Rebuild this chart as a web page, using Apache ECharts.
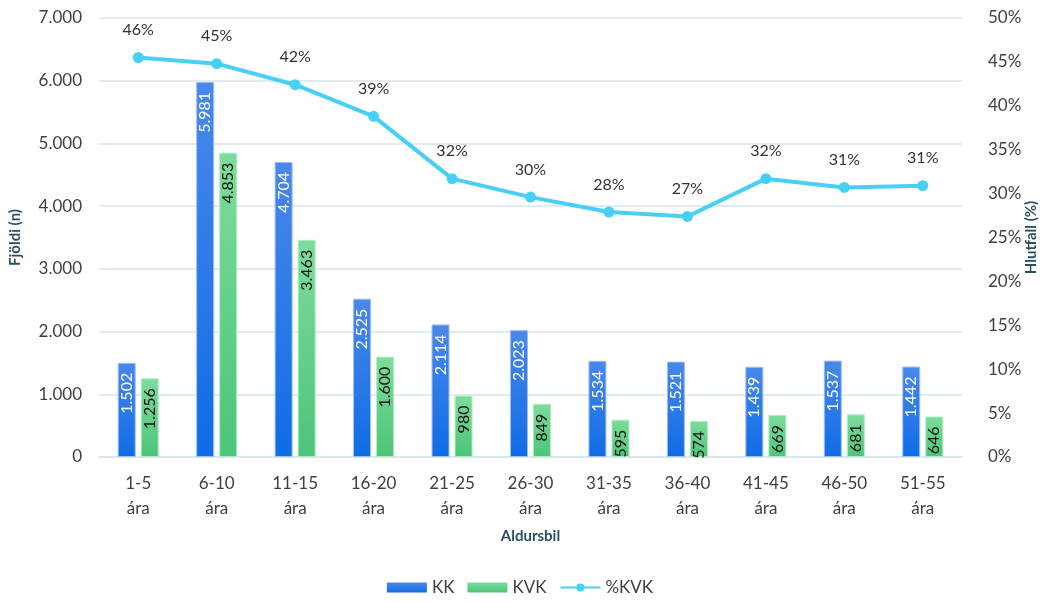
<!DOCTYPE html>
<html>
<head>
  <meta charset="utf-8">
  <title>Aldursbil</title>
  <script src="https://cdn.jsdelivr.net/npm/echarts@6/dist/echarts.min.js"></script>
  <style>
    html, body { margin: 0; padding: 0; background: #fff; }
    #chart { width: 1040px; height: 602px; }
  </style>
</head>
<body>
  <div id="chart"></div>
  <script>
    // data
    const categories = ['1-5\nára', '6-10\nára', '11-15\nára', '16-20\nára', '21-25\nára', '26-30\nára',
      '31-35\nára', '36-40\nára', '41-45\nára', '46-50\nára', '51-55\nára'];
    const kk = [1502, 5981, 4704, 2525, 2114, 2023, 1534, 1521, 1439, 1537, 1442];
    const kvk = [1256, 4853, 3463, 1600, 980, 849, 595, 574, 669, 681, 646];
    const pctKvk = [45.5, 44.8, 42.4, 38.8, 31.7, 29.6, 27.9, 27.4, 31.7, 30.7, 30.9];

    const font = 'Lato, "Open Sans", sans-serif';
    const gridColor = '#d6e6eb';
    const nameColor = '#2b4f5e';

    // 1000 -> "1.000"
    function dots(v) {
      return String(v).replace(/\B(?=(\d{3})+(?!\d))/g, '.');
    }

    const chart = echarts.init(document.getElementById('chart'));
    chart.setOption({
      animation: false,
      textStyle: { fontFamily: font },
      grid: { left: 99, right: 78, top: 18, bottom: 145, outerBoundsMode: 'none', containLabel: false },
      legend: {
        bottom: 1,
        left: 'center',
        itemGap: 13,
        itemWidth: 40,
        itemHeight: 10,
        textStyle: { fontSize: 17, color: '#404040', fontFamily: font },
        itemStyle: { borderWidth: 0 },
        data: [
          { name: 'KK', icon: 'rect' },
          { name: 'KVK', icon: 'rect' },
          { name: '%KVK' }
        ]
      },
      xAxis: {
        type: 'category',
        data: categories,
        name: 'Aldursbil',
        nameLocation: 'middle',
        nameGap: 72,
        nameTextStyle: { fontSize: 15, fontWeight: 'bold', color: nameColor, fontFamily: font },
        axisLine: { lineStyle: { color: gridColor, width: 1.5 } },
        axisTick: { show: false },
        axisLabel: { fontSize: 17, color: '#404040', lineHeight: 25, margin: 14, interval: 0 }
      },
      yAxis: [
        {
          type: 'value',
          min: 0, max: 7000, interval: 1000,
          name: 'Fjöldi (n)',
          nameLocation: 'middle',
          nameRotate: 90,
          nameGap: 76,
          nameTextStyle: { fontSize: 15, fontWeight: 'bold', color: nameColor, fontFamily: font },
          axisLabel: { fontSize: 17, color: '#404040', margin: 17, formatter: dots },
          splitLine: { lineStyle: { color: gridColor, width: 1.5 } }
        },
        {
          type: 'value',
          min: 0, max: 50, interval: 5,
          position: 'right',
          name: 'Hlutfall (%)',
          nameLocation: 'middle',
          nameRotate: 90,
          nameGap: 62,
          nameMoveOverlap: false,
          nameTextStyle: { fontSize: 15, fontWeight: 'bold', color: nameColor, fontFamily: font },
          axisLabel: { fontSize: 17, color: '#404040', margin: 26, formatter: '{value}%' },
          splitLine: { show: false }
        }
      ],
      series: [
        {
          name: 'KK',
          type: 'bar',
          data: kk,
          barWidth: 18,
          barGap: '28%',
          itemStyle: {
            color: new echarts.graphic.LinearGradient(0, 0, 0, 1, [
              { offset: 0, color: '#4a88ea' },
              { offset: 1, color: '#0f6ce6' }
            ]),
            borderColor: '#9cc0f2',
            borderWidth: 1
          },
          label: {
            show: true,
            position: 'insideTop',
            rotate: 90,
            align: 'right',
            verticalAlign: 'middle',
            distance: 10,
            fontSize: 16,
            color: '#ffffff',
            formatter: p => dots(p.value)
          }
        },
        {
          name: 'KVK',
          type: 'bar',
          data: kvk,
          barWidth: 18,
          itemStyle: {
            color: new echarts.graphic.LinearGradient(0, 0, 0, 1, [
              { offset: 0, color: '#7ddc9c' },
              { offset: 1, color: '#4cc578' }
            ]),
            borderColor: '#b2ecc4',
            borderWidth: 1
          },
          label: {
            show: true,
            position: 'insideTop',
            rotate: 90,
            align: 'right',
            verticalAlign: 'middle',
            distance: 10,
            fontSize: 16,
            color: '#111111',
            formatter: p => dots(p.value)
          }
        },
        {
          name: '%KVK',
          type: 'line',
          yAxisIndex: 1,
          data: pctKvk,
          symbol: 'circle',
          symbolSize: 11,
          lineStyle: { color: '#47d0f5', width: 4 },
          itemStyle: { color: '#47d0f5' },
          label: {
            show: true,
            position: 'top',
            distance: 14,
            fontSize: 16,
            color: '#333333',
            formatter: p => Math.round(p.value) + '%'
          }
        }
      ]
    });
  </script>
</body>
</html>
